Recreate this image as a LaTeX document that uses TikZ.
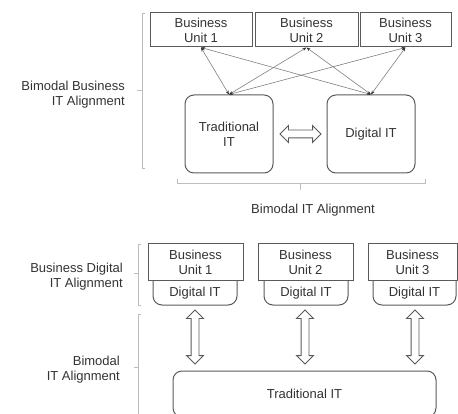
\documentclass[tikz,border=0pt]{standalone}
\usepackage{fontspec}
\setmainfont{Liberation Sans}
\usetikzlibrary{arrows.meta,shapes.arrows,positioning}
\definecolor{boxgray}{HTML}{5A5A5A}
\definecolor{textgray}{HTML}{333333}
\definecolor{bracegray}{HTML}{BDBDBD}
\definecolor{linegray}{HTML}{808080}
\tikzset{
  unitbox/.style={draw=boxgray, line width=1pt, fill=white, align=center,
    inner sep=0pt, text=textgray, minimum width=#1, minimum height=34pt},
  itbox/.style={draw=boxgray, line width=1pt, rounded corners=9pt, align=center,
    inner sep=0pt, text=textgray},
  label/.style={text=textgray, align=right, anchor=east, inner sep=0pt},
  link/.style={draw=linegray, line width=0.6pt, {Stealth[length=4pt,width=3pt,color=textgray]}-{Stealth[length=4pt,width=3pt,color=textgray]}},
  bigarrow/.style={draw=boxgray, line width=0.9pt, shape=double arrow, inner sep=3.5pt,
    double arrow head extend=4.5pt, minimum height=#1},
  brace/.style={draw=bracegray, line width=0.9pt}
}
\begin{document}
\begin{tikzpicture}[x=1pt, y=-1pt, font=\fontsize{13}{15}\selectfont]
\useasboundingbox (0,0) rectangle (458,414);

%l'alignement bimodal
\begin{scope}
\node[unitbox=102pt] (BU1) at (201,30) {Business\\Unit 1};
\node[unitbox=103pt] (BU2) at (306.5,30) {Business\\Unit 2};
\node[unitbox=91pt] (BU3) at (405.5,30) {Business\\Unit 3};

\node[itbox, minimum width=88pt, minimum height=78pt] (Trad) at (229,134) {Traditional\\IT};
\node[itbox, minimum width=88pt, minimum height=78pt] (Dig) at (371,134) {Digital IT};
\node[bigarrow=41pt] (TD) at (300.5,134) {};

\draw[link] (BU1.south) -- (Trad.north);
\draw[link] (BU1.south) -- (Dig.north);
\draw[link] (BU2.south) -- (Trad.north);
\draw[link] (BU2.south) -- (Dig.north);
\draw[link] (BU3.south) -- (Trad.north);
\draw[link] (BU3.south) -- (Dig.north);

\draw[brace] (145,13) -- (142,13) -- (142,168) -- (145,168) (142,90) -- (137,90);% accolade gauche
\draw[brace] (177,179) -- (177,183) -- (425,183) -- (425,179) (300,183) -- (300,190);% accolade du bas

\node[label] (BBA) at (125,95) {Bimodal Business\\IT Alignment};
\node[text=textgray] (BIA) at (313,210) {Bimodal IT Alignment};
\end{scope}

%les unites avec leur IT digitale
\begin{scope}
\node[itbox, minimum width=84pt, minimum height=40pt] (D1) at (195,285) {};
\node[itbox, minimum width=84pt, minimum height=40pt] (D2) at (306,285) {};
\node[itbox, minimum width=83pt, minimum height=40pt] (D3) at (414.5,285) {};
\node[text=textgray] at (195,293) {Digital IT};
\node[text=textgray] at (306,293) {Digital IT};
\node[text=textgray] at (414.5,293) {Digital IT};

\node[unitbox=95pt, minimum height=37pt] (B1) at (195.5,262.5) {Business\\Unit 1};
\node[unitbox=95pt, minimum height=37pt] (B2) at (305.5,262.5) {Business\\Unit 2};
\node[unitbox=89pt, minimum height=37pt] (B3) at (412.5,262.5) {Business\\Unit 3};

\node[itbox, minimum width=263pt, minimum height=46pt] (TI) at (304.5,394) {Traditional IT};

\node[bigarrow=54pt, shape border rotate=90] (A1) at (195,337) {};
\node[bigarrow=54pt, shape border rotate=90] (A2) at (305,337) {};
\node[bigarrow=54pt, shape border rotate=90] (A3) at (415,337) {};

\draw[brace] (141,244) -- (138,244) -- (138,305) -- (141,305) (138,273) -- (134,273);% accolade haute
\draw[brace] (141,314) -- (138,314) -- (138,420) (138,367) -- (134,367);% accolade basse

\node[label] (BDA) at (123,277) {Business Digital\\IT Alignment};
\node[label] (BIA2) at (120,370) {Bimodal\\IT Alignment};
\end{scope}

\end{tikzpicture}
\end{document}
